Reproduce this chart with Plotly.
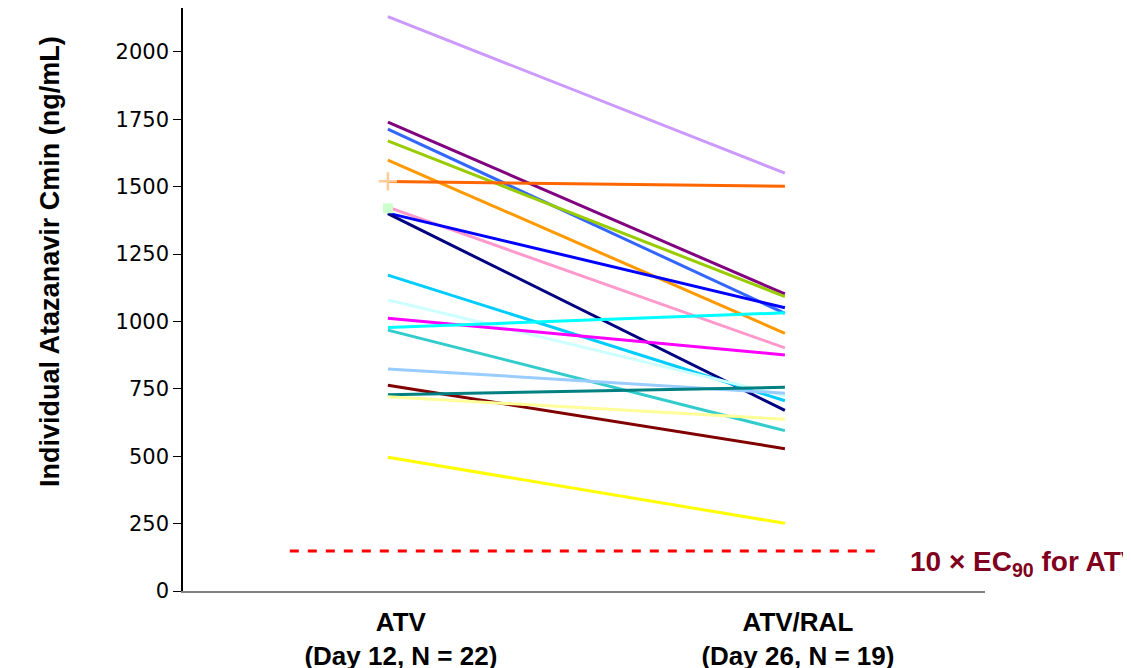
import plotly.graph_objects as go

categories = ["ATV", "ATV/RAL"]
tick_labels = ["<b>ATV<br>(Day 12, N = 22)</b>", "<b>ATV/RAL<br>(Day 26, N = 19)</b>"]

# paired subjects: (Day 12, Day 26)
day12 = [2131, 1740, 1714, 1670, 1599, 1519, 1424, 1402, 1400, 1172,
         1080, 1012, 978, 968, 824, 763, 728, 721, 496]
day26 = [1550, 1102, 1030, 1092, 956, 1502, 902, 1051, 670, 706,
         724, 876, 1032, 595, 734, 528, 756, 637, 251]
line_colors = ["#CC99FF", "#800080", "#3366FF", "#99CC00", "#FF9900", "#FF6600",
               "#FF99CC", "#0000FF", "#000080", "#00CCFF", "#CCFFFF", "#FF00FF",
               "#00FFFF", "#33CCCC", "#99CCFF", "#800000", "#008080", "#FFFF99",
               "#FFFF00"]

# subjects with Day 12 only
single_vals = [1420, 1520]
single_colors = ["#CCFFCC", "#FFCC99"]
single_symbols = ["square", "cross-thin"]

ec90_level = [148]
ec90_label = "10 \u00d7 EC<sub>90</sub> for ATV"

y_ticks = [0, 250, 500, 750, 1000, 1250, 1500, 1750, 2000]

fig = go.Figure()

for a, b, c in zip(day12, day26, line_colors):
    fig.add_trace(go.Scatter(x=categories, y=[a, b], mode="lines",
                             line=dict(color=c, width=3), showlegend=False,
                             hoverinfo="y"))

for v, c, s in zip(single_vals, single_colors, single_symbols):
    if s == "square":
        mk = dict(symbol=s, size=10, color=c)
    else:
        mk = dict(symbol=s, size=13, color=c, line=dict(color=c, width=2.5))
    fig.add_trace(go.Scatter(x=[categories[0]], y=[v], mode="markers",
                             marker=mk, showlegend=False))

fig.add_shape(type="line", xref="x", yref="y", x0=-0.247, x1=1.239,
              y0=ec90_level[0], y1=ec90_level[0],
              line=dict(color="#FF0000", width=3, dash="dash"))

fig.add_annotation(x=1.31, y=ec90_level[0], xref="x", yref="y",
                   text="<b>" + ec90_label + "</b>", showarrow=False,
                   xanchor="left", yanchor="middle", yshift=-12,
                   font=dict(family="Liberation Sans, Arial", size=28, color="#800020"))

fig.add_annotation(x=-0.166, y=0.566, xref="paper", yref="paper",
                   text="<b>Individual Atazanavir Cmin (ng/mL)</b>", textangle=-90,
                   showarrow=False, xanchor="center", yanchor="middle",
                   font=dict(family="Liberation Sans, Arial", size=27, color="black"))

fig.update_layout(
    width=1131, height=668,
    margin=dict(l=175, r=154, t=0, b=85),
    paper_bgcolor="white", plot_bgcolor="white",
    font=dict(family="Liberation Sans, Arial", color="black"),
    xaxis=dict(type="category", range=[-0.516, 1.504], tickmode="array",
               tickvals=categories, ticktext=tick_labels,
               ticklabelshift=13, ticklabelstandoff=7,
               showline=True, linecolor="#808080", linewidth=2,
               showgrid=False, zeroline=False, ticks="",
               tickfont=dict(size=26, color="black")),
    yaxis=dict(range=[0, 2163], tickvals=y_ticks,
               showline=True, linecolor="black", linewidth=1.5,
               ticks="outside", ticklen=8, tickcolor="black",
               showgrid=False, zeroline=False,
               tickfont=dict(family="DejaVu Sans", size=21, color="black")),
)

fig.write_html("out.html")
